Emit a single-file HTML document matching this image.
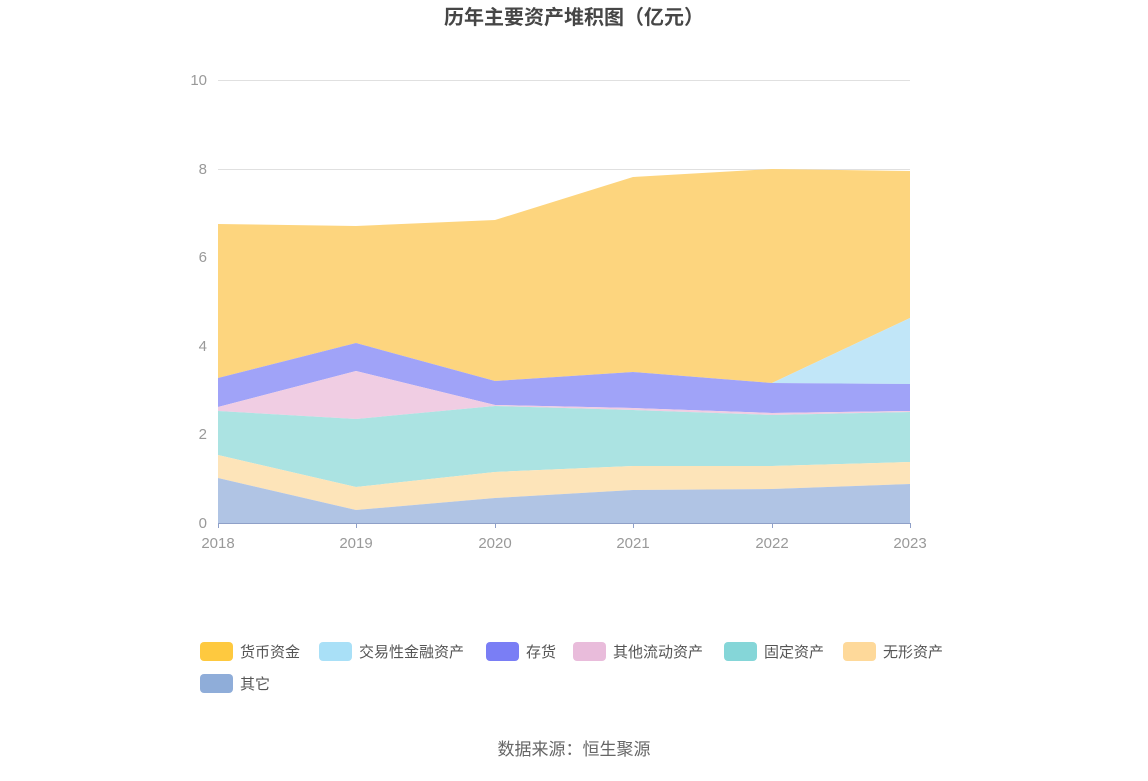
<!DOCTYPE html>
<html><head><meta charset="utf-8"><style>
body{margin:0;background:#fff;}
svg text{font-family:"Liberation Sans","Noto Sans CJK SC",sans-serif;}
</style></head><body>
<svg width="1148" height="776" viewBox="0 0 1148 776" xmlns="http://www.w3.org/2000/svg">
<text x="574" y="24" text-anchor="middle" font-size="20" font-weight="bold" fill="#464646">历年主要资产堆积图（亿元）</text>
<g stroke="#e0e0e0" stroke-width="1">
<line x1="218" y1="80.5" x2="910" y2="80.5"/>
<line x1="218" y1="169.5" x2="910" y2="169.5"/>
<line x1="218" y1="257.5" x2="910" y2="257.5"/>
<line x1="218" y1="346.5" x2="910" y2="346.5"/>
<line x1="218" y1="434.5" x2="910" y2="434.5"/>
</g>
<g font-size="15" fill="#999" text-anchor="end">
<text x="207" y="85">10</text><text x="207" y="174">8</text><text x="207" y="262">6</text>
<text x="207" y="351">4</text><text x="207" y="439">2</text><text x="207" y="528">0</text>
</g>
<!-- areas -->
<polygon fill="#fdd57e" points="218,224 356,226 495,220 633,177 772,169 910,171 910,318 772,383 633,372 495,381 356,343 218,378"/>
<polygon fill="#c1e6f8" points="218,378 356,343 495,381 633,372 772,383 910,318 910,384 772,383 633,372 495,381 356,343 218,378"/>
<polygon fill="#a0a3f8" points="218,378 356,343 495,381 633,372 772,383 910,384 910,411 772,413 633,408 495,405 356,371 218,407"/>
<polygon fill="#f0cde3" points="218,407 356,371 495,405 633,408 772,413 910,411 910,412 772,415 633,410 495,406 356,419 218,411"/>
<polygon fill="#abe3e2" points="218,411 356,419 495,406 633,410 772,415 910,412 910,462 772,466 633,466 495,472 356,487 218,455"/>
<polygon fill="#fde4b9" points="218,455 356,487 495,472 633,466 772,466 910,462 910,484 772,489 633,490 495,498 356,510 218,478"/>
<polygon fill="#b0c4e4" points="218,478 356,510 495,498 633,490 772,489 910,484 910,523 218,523"/>
<line x1="218" y1="523.5" x2="910" y2="523.5" stroke="#8fa0c8" stroke-width="1"/>
<g stroke="#8fa0c8"><line x1="218.5" y1="523" x2="218.5" y2="528"/><line x1="356.5" y1="523" x2="356.5" y2="528"/><line x1="495.5" y1="523" x2="495.5" y2="528"/><line x1="633.5" y1="523" x2="633.5" y2="528"/><line x1="772.5" y1="523" x2="772.5" y2="528"/><line x1="910.5" y1="523" x2="910.5" y2="528"/></g>
<g font-size="15" fill="#999" text-anchor="middle">
<text x="218" y="548">2018</text><text x="356" y="548">2019</text><text x="495" y="548">2020</text>
<text x="633" y="548">2021</text><text x="772" y="548">2022</text><text x="910" y="548">2023</text>
</g>
<g font-size="15" fill="#555">
<rect x="200" y="642" width="33" height="19" rx="4" fill="#fec93f"/><text x="240" y="657">货币资金</text>
<rect x="319" y="642" width="33" height="19" rx="4" fill="#a9e0f7"/><text x="359" y="657">交易性金融资产</text>
<rect x="486" y="642" width="33" height="19" rx="4" fill="#7a7ef5"/><text x="526" y="657">存货</text>
<rect x="573" y="642" width="33" height="19" rx="4" fill="#e9bcdb"/><text x="613" y="657">其他流动资产</text>
<rect x="724" y="642" width="33" height="19" rx="4" fill="#85d6d8"/><text x="764" y="657">固定资产</text>
<rect x="843" y="642" width="33" height="19" rx="4" fill="#fed99a"/><text x="883" y="657">无形资产</text>
<rect x="200" y="674" width="33" height="19" rx="4" fill="#8fadd9"/><text x="240" y="689">其它</text>
</g>
<text x="574" y="755" text-anchor="middle" font-size="17" fill="#666">数据来源：恒生聚源</text>
</svg>
</body></html>
